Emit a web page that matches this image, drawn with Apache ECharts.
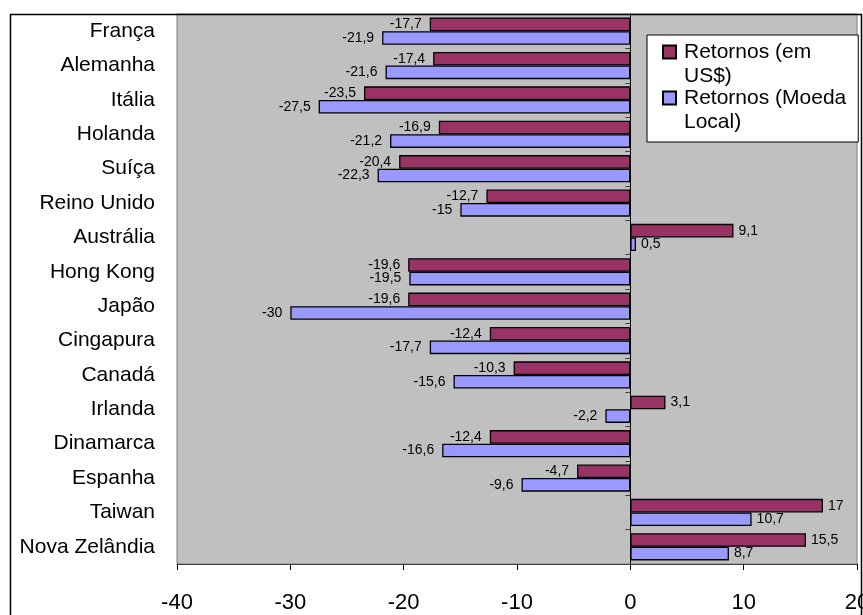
<!DOCTYPE html>
<html>
<head>
<meta charset="utf-8">
<script src="https://cdn.jsdelivr.net/npm/echarts@6/dist/echarts.min.js"></script>
<style>
  html, body { margin: 0; padding: 0; background: #fff; }
  #chart { width: 863px; height: 615px; }
</style>
</head>
<body>
<div id="chart"></div>
<script>
// Countries, listed top to bottom
const categories = ['França', 'Alemanha', 'Itália', 'Holanda', 'Suíça', 'Reino Unido', 'Austrália',
  'Hong Kong', 'Japão', 'Cingapura', 'Canadá', 'Irlanda', 'Dinamarca', 'Espanha', 'Taiwan', 'Nova Zelândia'];

// Returns in US dollars (%)
const retornosUSD = [-17.7, -17.4, -23.5, -16.9, -20.4, -12.7, 9.1, -19.6, -19.6, -12.4, -10.3, 3.1, -12.4, -4.7, 17, 15.5];

// Returns in local currency (%)
const retornosLocal = [-21.9, -21.6, -27.5, -21.2, -22.3, -15, 0.5, -19.5, -30, -17.7, -15.6, -2.2, -16.6, -9.6, 10.7, 8.7];

// Value axis ticks
const xTicks = [-40, -30, -20, -10, 0, 10, 20];

const seriesNames = ['Retornos (em US$)', 'Retornos (Moeda Local)'];
const legendText = {
  'Retornos (em US$)': 'Retornos (em\nUS$)',
  'Retornos (Moeda Local)': 'Retornos (Moeda\nLocal)'
};

const FONT = '"Liberation Sans", Arial, sans-serif';

// Legend swatch: a square on the first text line; the bare move-to point
// stretches the icon box down over the second line so the text starts level with it.
const SWATCH = 'path://M0,0H13V13H0Z M13,37';

function fmt(v) {
  return String(v).replace('.', ',');
}

function barData(values) {
  return values.map(v => ({
    value: v,
    label: {
      position: v < 0 ? 'left' : 'right',
      distance: v < 0 ? 8 : 5
    }
  }));
}

function barSeries(name, values, color) {
  return {
    name: name,
    type: 'bar',
    yAxisIndex: 0,
    data: barData(values),
    barGap: '0%',
    barCategoryGap: '21%',
    itemStyle: { color: color, borderColor: '#000', borderWidth: 1.3 },
    label: {
      show: true,
      fontFamily: FONT,
      fontSize: 14,
      color: '#000',
      formatter: p => fmt(p.value)
    },
    emphasis: { disabled: true },
    animation: false
  };
}

const chart = echarts.init(document.getElementById('chart'), null, { renderer: 'canvas' });

chart.setOption({
  backgroundColor: '#fff',
  animation: false,
  grid: {
    left: 177, right: 6, top: 14, bottom: 51,
    outerBoundsMode: 'none',
    containLabel: false,
    show: true,
    backgroundColor: '#C0C0C0',
    borderColor: '#808080',
    borderWidth: 1
  },
  legend: {
    orient: 'vertical',
    left: 647,
    top: 35,
    data: seriesNames,
    backgroundColor: '#fff',
    borderColor: '#000',
    borderWidth: 1,
    borderRadius: 0,
    padding: [5, 12, 8, 15],
    itemGap: -2,
    itemWidth: 13,
    itemHeight: 37,
    icon: SWATCH,
    selectedMode: false,
    formatter: n => legendText[n],
    textStyle: {
      fontFamily: FONT,
      fontSize: 21,
      lineHeight: 24,
      color: '#000',
      padding: [0, 0, 0, 3]
    }
  },
  xAxis: {
    type: 'value',
    min: xTicks[0],
    max: xTicks[xTicks.length - 1],
    interval: 10,
    axisLine: { show: true, onZero: false, lineStyle: { color: '#404040', width: 1 } },
    axisTick: { show: true, length: 6, lineStyle: { color: '#000' } },
    splitLine: { show: false },
    axisLabel: {
      fontFamily: FONT,
      fontSize: 22,
      color: '#000',
      margin: 28,
      formatter: v => fmt(v)
    }
  },
  yAxis: [
    {
      // category names on the left edge
      type: 'category',
      data: categories,
      inverse: true,
      position: 'left',
      axisLine: { show: false, onZero: false },
      axisTick: { show: false },
      axisLabel: {
        fontFamily: FONT,
        fontSize: 21,
        color: '#000',
        margin: 22
      }
    },
    {
      // category axis line crossing at zero, with its small tick marks
      type: 'category',
      data: categories,
      inverse: true,
      position: 'right',
      axisLine: { show: true, onZero: true, onZeroAxisIndex: 0, lineStyle: { color: '#000', width: 1 } },
      axisTick: { show: true, inside: true, length: 5, lineStyle: { color: '#404040' } },
      axisLabel: { show: false }
    }
  ],
  graphic: [
    {
      // outer chart area frame
      type: 'rect',
      silent: true,
      shape: { x: 10.5, y: 14.5, width: 851, height: 700 },
      style: { fill: 'none', stroke: '#000', lineWidth: 1.5 },
      z: 100
    }
  ],
  series: [
    barSeries(seriesNames[0], retornosUSD, '#993366'),
    barSeries(seriesNames[1], retornosLocal, '#9999FF')
  ]
});
</script>
</body>
</html>
